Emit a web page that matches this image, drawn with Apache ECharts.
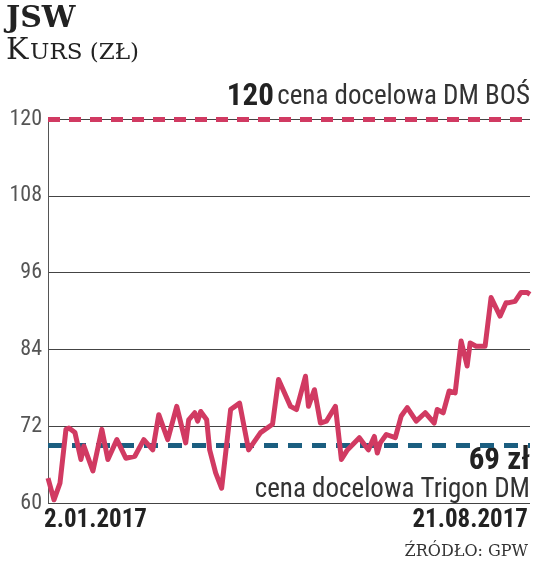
<!DOCTYPE html>
<html><head><meta charset="utf-8">
<script src="https://cdn.jsdelivr.net/npm/echarts@6/dist/echarts.min.js"></script>
<style>html,body{margin:0;padding:0;background:#fff}#c{width:536px;height:571px}</style>
</head><body><div id="c"></div>
<script>
const days = [2,4,6,8,9,11,13,14,17,20,22,25,28,31,34,37,39,42,45,48,49,51,52,53,55,56,58,60,63,66,69,73,77,79,83,85,88,89,91,93,95,98,100,102,106,109,111,112,113,115,118,120,122,125,128,131,132,134,136,138,140,142,143,145,148,150,153,155,156,158,160,162,163];
const prices = [63.9,60.5,63.1,71.5,71.7,71,66.8,68.9,65,71.5,66.8,69.9,67,67.3,69.9,68.3,73.8,69.9,75.1,69.4,73,74.1,72.8,74.3,73,68.3,64.7,62.3,74.6,75.6,68.3,71,72.3,79.3,75.1,74.6,79.8,75.1,77.7,72.5,72.8,75.1,66.8,68.3,70.2,68.3,70.4,67.8,69.4,70.7,70.2,73.6,74.9,72.8,74.1,72.5,74.6,74.1,77.5,77.2,85.3,81.4,85,84.5,84.5,92.1,89.2,91.3,91.3,91.5,92.9,92.9,92.6];
const yTicks = [60,72,84,96,108,120];
const targetBOS = 120, targetTrigon = 69;
const startLabel = '2.01.2017', endLabel = '21.08.2017';
const font = '"Liberation Sans Narrow","Roboto Condensed","DejaVu Sans Condensed",sans-serif';
const ch = echarts.init(document.getElementById('c'));
ch.setOption({
  animation:false,
  grid:{left:48,right:6,top:119,bottom:68},
  xAxis:{type:'value',min:days[0],max:days[days.length-1],show:false},
  yAxis:{type:'value',min:60,max:120,interval:12,
    axisLine:{show:true,lineStyle:{color:'#555',width:1}},axisTick:{show:false},
    axisLabel:{color:'#555',fontSize:22,fontFamily:font,margin:6},
    splitLine:{lineStyle:{color:'#444',width:1}}},
  series:[{type:'line',data:days.map((d,i)=>[d,prices[i]]),symbol:'none',
    lineStyle:{color:'#d13a62',width:5,join:'round'},z:5,
    markLine:{silent:true,symbol:'none',label:{show:false},
      data:[{yAxis:targetBOS,lineStyle:{color:'#d13a62',width:5,type:[12,9]}},
            {yAxis:targetTrigon,lineStyle:{color:'#1b5e80',width:5,type:[14,10]}}]}}],
  graphic:[
    {type:'text',left:6,top:4,style:{text:'JSW',font:'bold 30px "DejaVu Serif",serif',fill:'#222'}},
    {type:'text',left:6,top:36,style:{text:'K',font:'30px "DejaVu Serif",serif',fill:'#222'}},
    {type:'text',left:30,top:42,style:{text:'URS (ZŁ)',font:'23px "DejaVu Serif",serif',fill:'#222'}},
    {type:'text',right:6,top:82,style:{rich:{b:{font:'bold 31px '+font,fill:'#222'},n:{font:'27px '+font,fill:'#333'}},text:'{b|120} {n|cena docelowa DM BOŚ}'}},
    {type:'text',right:6,top:446,style:{text:'69 zł',font:'bold 31px '+font,fill:'#222'}},
    {type:'text',right:6,top:477,style:{text:'cena docelowa Trigon DM',font:'27px '+font,fill:'#333'}},
    {type:'text',left:44,top:508,style:{text:startLabel,font:'bold 25px '+font,fill:'#222'}},
    {type:'text',right:8,top:508,style:{text:endLabel,font:'bold 25px '+font,fill:'#222'}},
    {type:'text',right:8,top:544,style:{text:'ŹRÓDŁO: GPW',font:'16px "DejaVu Serif",serif',fill:'#333'}}
  ]
});
</script></body></html>
